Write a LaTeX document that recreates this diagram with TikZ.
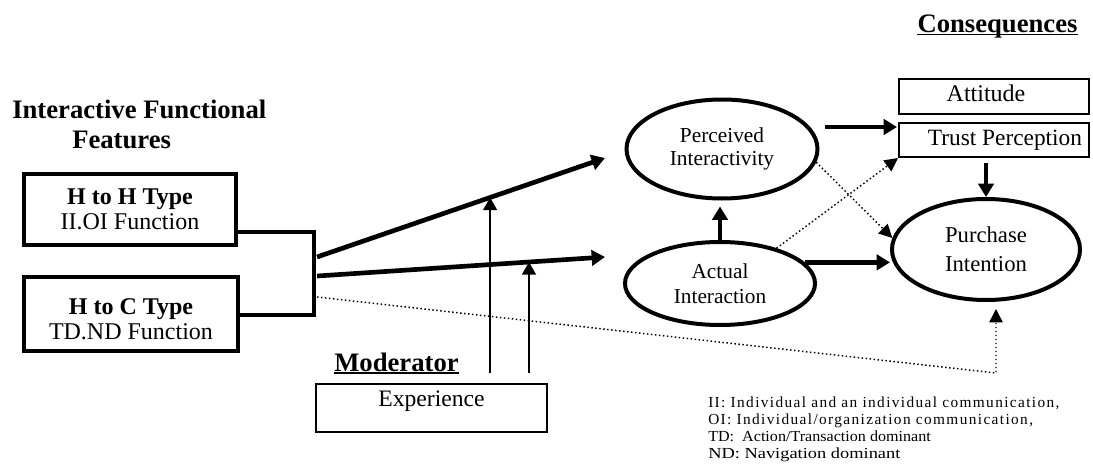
\documentclass[tikz,border=0pt]{standalone}
\usepackage{fontspec}
\setmainfont{Liberation Serif}
\newfontfamily\noteA{Liberation Serif}[LetterSpace=9]
\newfontfamily\noteB{Liberation Serif}[FakeStretch=1.2]
\newfontfamily\noteC{Liberation Serif}[FakeStretch=1.05]
\usetikzlibrary{arrows.meta,shapes.geometric,calc}
\begin{document}
\begin{tikzpicture}[x=0.75pt,y=-0.75pt,
  thickbox/.style={draw,line width=3.2pt,rectangle,inner sep=0pt,align=center,font=\fontsize{18}{18.75}\selectfont},
  thinbox/.style={draw,line width=1.2pt,rectangle,inner sep=0pt},
  ell/.style={draw,line width=3pt,ellipse,inner sep=0pt,align=center},
  big/.style={line width=3.5pt,-{Triangle[length=10pt,width=11.5pt]}},
  thinarr/.style={line width=1.2pt,-{Triangle[length=9.5pt,width=10.5pt]}},
  dotarr/.style={line width=1.1pt,dash pattern=on 1.1pt off 1.9pt,-{Triangle[length=10pt,width=10pt]}},
  head/.style={inner sep=0pt,anchor=base,font=\bfseries\fontsize{20}{24}\selectfont},
  note/.style={inner sep=0pt,anchor=base west},
  uline/.style={line width=1.1pt}
]
\useasboundingbox (0,0) rectangle (1093,464);

% headings
\node[head,anchor=base west] (title1) at (12,118) {Interactive Functional};
\node[head,anchor=base west] (title2) at (72,148) {Features};
\node[head] (cons) at (997.5,32) {Consequences};
\draw[uline] ([yshift=-1.8pt]cons.base west) -- ([yshift=-1.8pt]cons.base east);
\node[head] (mod) at (396.5,371) {Moderator};
\draw[uline] ([yshift=-1.5pt]mod.base west) -- ([yshift=-1.5pt]mod.base east);

% left boxes
\node[thickbox,minimum width=159pt,minimum height=53.25pt] (hh) at (130,209.5)
  {\textbf{H to H Type}\\II.OI Function};
\node[thickbox,minimum width=160.5pt,minimum height=55.5pt] (hc) at (131,314)
  {\rule{0pt}{19pt}\textbf{H to C Type}\\TD.ND Function};

% ellipses
\node[ell,minimum width=143.25pt,minimum height=74.25pt,font=\fontsize{16}{17.5}\selectfont] (pi) at (722,149)
  {Perceived\\Interactivity};
\node[ell,minimum width=142.5pt,minimum height=62.25pt,font=\fontsize{16}{18.75}\selectfont] (ai) at (720,283.5)
  {Actual\\Interaction};
\node[ell,minimum width=141pt,minimum height=75.75pt,font=\fontsize{17}{21.5}\selectfont] (pur) at (986,249.5)
  {Purchase\\Intention};

% consequence boxes
\node[thinbox,minimum width=142.8pt,minimum height=26.5pt] (att) at (994,96.5) {};
\node[inner sep=0pt,anchor=base,font=\fontsize{18}{18}\selectfont] (attt) at (986,101.5) {Attitude};
\node[thinbox,minimum width=142.8pt,minimum height=25.8pt] (tp) at (994,140) {};
\node[inner sep=0pt,anchor=base,font=\fontsize{17.5}{18}\selectfont] (tpt) at (1005,145) {Trust Perception};

% moderator box
\node[thinbox,minimum width=173.5pt,minimum height=36.3pt] (ex) at (431.5,408) {};
\node[inner sep=0pt,anchor=base,font=\fontsize{17.7}{18}\selectfont] (ext) at (431.5,406) {Experience};

% bracket
\coordinate (b1) at (314,232);
\coordinate (b2) at (314,315);
\draw[line width=3.2pt,line join=miter] (hh.east |- b1) -- (b1) -- (b2) -- (hc.east |- b2);

% main arrows
\coordinate (s1) at (317,257);
\coordinate (e1) at (605,158);
\coordinate (s2) at (317,276);
\coordinate (e2) at (605,257);
\coordinate (s3) at (317,297);
\coordinate (dc) at (996,373);
\draw[big] (s1) -- (e1);
\draw[big] (s2) -- (e2);

% moderator arrows
\coordinate (t1) at ($(s1)!0.601!(e1)$);
\coordinate (t2) at ($(s2)!0.736!(e2)$);
\draw[thinarr] ($(t1 |- ex.north)+(0,-10)$) -- (t1);
\draw[thinarr] ($(t2 |- ex.north)+(0,-10)$) -- (t2);

% dotted direct path
\draw[dotarr] (s3) -- (dc) -- ($(dc |- pur.south)+(0,7)$);

% ellipse links
\draw[big] (ai.north) -- ($(ai.north |- pi.south)+(0,6)$);
\draw[big] (ai.14) -- (ai.14 -| pur.west);
\draw[big] ($(pi.east)+(5,-22)$) -- ($(tp.west)+(-1,-13)$);
\draw[big] ($(tp.south -| pur.north)+(0,5)$) -- (pur.north);
\draw[dotarr] (pi.-8) -- (pur.173);
\draw[dotarr] (ai.32) -- (tp.south west);

% notes
\node[note,font=\noteA\fontsize{11.5}{12}\selectfont] (n1) at (708,407) {II: Individual and an individual communication,};
\node[note,font=\noteA\fontsize{11.5}{12}\selectfont] (n2) at (708,424) {OI: Individual/organization communication,};
\node[note,font=\noteC\fontsize{11.5}{12}\selectfont] (n3) at (708,441) {TD:\ \ Action/Transaction dominant};
\node[note,font=\noteB\fontsize{11.5}{12}\selectfont] (n4) at (708,458) {ND: Navigation dominant};
\end{tikzpicture}
\end{document}
